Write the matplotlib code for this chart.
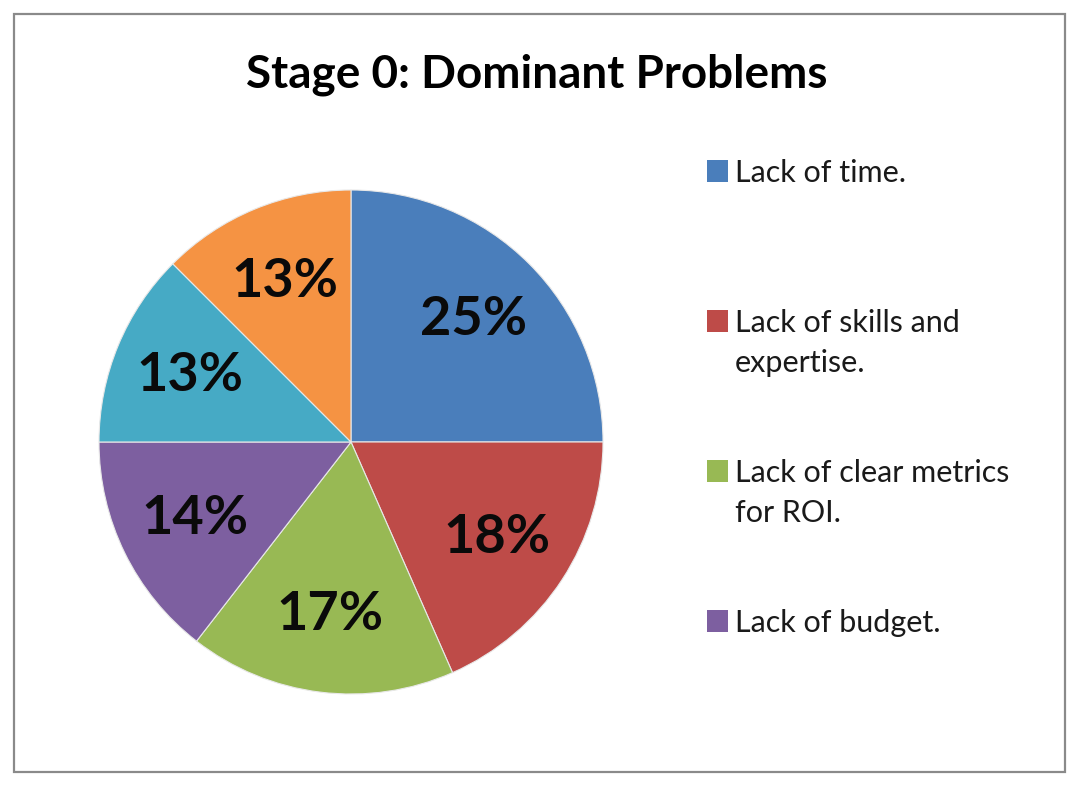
import matplotlib
matplotlib.use("Agg")
import matplotlib.pyplot as plt
from matplotlib.patches import Rectangle

# slice shares and the labels Excel printed on them
problems = ["Lack of time.", "Lack of skills and\nexpertise.",
            "Lack of clear metrics\nfor ROI.", "Lack of budget.",
            "Other problem A", "Other problem B"]
shares = [25, 18.4, 17.1, 14.5, 12.5, 12.5]
pct_labels = ["25%", "18%", "17%", "14%", "13%", "13%"]
colors = ["#4A7EBB", "#BE4B48", "#98B954", "#7D5FA0", "#46AAC5", "#F59343"]
n_legend = 4  # the legend box only had room for the first four entries

plt.rcParams["font.family"] = ["Lato", "DejaVu Sans"]

W, H = 1068, 787
fig = plt.figure(figsize=(W / 100, H / 100), dpi=100)
fig.patch.set_facecolor("white")

# outer chart border
fig.patches.append(Rectangle((14 / W, 1 - 772 / H), (1065 - 14) / W, (772 - 14) / H,
                             transform=fig.transFigure, fill=False,
                             edgecolor="#8a8a8a", linewidth=1.6))

# title
fig.text(537 / W, 1 - 88 / H, "Stage 0: Dominant Problems", ha="center",
         va="baseline", fontsize=33, fontweight="bold", color="black")

# pie: centre (351, 442), radius 252 px
ax = fig.add_axes([99 / W, 1 - 694 / H, 504 / W, 504 / H])
lab = iter(pct_labels)
wedges, texts, autotexts = ax.pie(shares, colors=colors, startangle=90,
                                  counterclock=False, radius=1,
                                  autopct=lambda p: next(lab), pctdistance=0.69,
                                  wedgeprops=dict(edgecolor="#e8e8e8", linewidth=0.8))
for t in autotexts:
    t.set_fontsize(39)
    t.set_fontweight("bold")
    t.set_color("#0a0a0a")
ax.set_xlim(-1, 1)
ax.set_ylim(-1, 1)
ax.set_aspect("equal")
ax.axis("off")

# legend drawn by hand so the swatch lines up with the first text line
first_baseline = 182
step = 150
line_gap = 40
for i in range(n_legend):
    base = first_baseline + i * step
    fig.patches.append(Rectangle((707 / W, 1 - base / H), 21 / W, 22 / H,
                                 transform=fig.transFigure,
                                 facecolor=colors[i], edgecolor="none"))
    for j, line in enumerate(problems[i].split("\n")):
        fig.text(735 / W, 1 - (base + j * line_gap) / H, line, ha="left",
                 va="baseline", fontsize=22, color="#1a1a1a")

plt.savefig("out.png", dpi=100)
